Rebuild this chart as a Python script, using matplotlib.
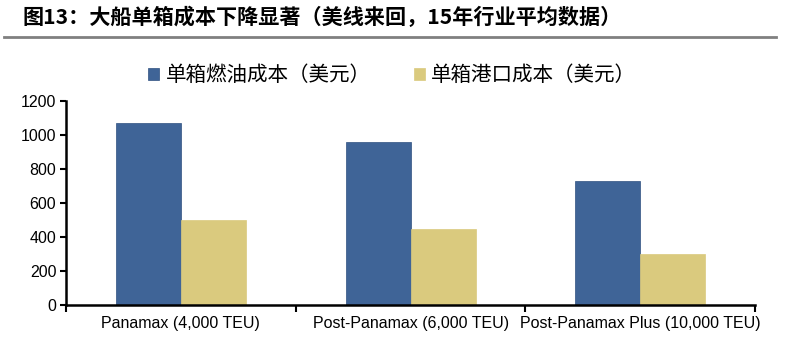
import matplotlib
matplotlib.use("Agg")
import matplotlib.pyplot as plt
import numpy as np

plt.rcParams['font.family'] = ['Liberation Sans', 'Noto Sans CJK SC', 'DejaVu Sans']

categories = ["Panamax (4,000 TEU)", "Post-Panamax (6,000 TEU)", "Post-Panamax Plus (10,000 TEU)"]
fuel_cost = [1070, 960, 730]
port_cost = [500, 450, 300]
series_names = ["单箱燃油成本（美元）", "单箱港口成本（美元）"]
yticks = [0, 200, 400, 600, 800, 1000, 1200]
title = "图13：大船单箱成本下降显著（美线来回，15年行业平均数据）"

blue = "#3F6497"
yellow = "#DACA7E"

fig = plt.figure(figsize=(8, 3.61), dpi=100)
ax = fig.add_axes([0.0825, 0.155, 0.8615, 0.565])

x = np.arange(len(categories))
w = 0.283
ax.bar(x - w/2, fuel_cost, width=w, color=blue, edgecolor="#2F5080", linewidth=0.5, label=series_names[0])
ax.bar(x + w/2, port_cost, width=w, color=yellow, edgecolor=yellow, linewidth=0.5, label=series_names[1])

ax.set_xlim(-0.5, len(categories) - 0.5)
ax.set_ylim(0, 1200)
ax.set_yticks(yticks)
ax.set_yticklabels([str(v) for v in yticks], fontsize=11.5)
ax.set_xticks(x)
ax.set_xticklabels(categories, fontsize=11.5)
ax.tick_params(axis='x', length=0, pad=8)
ax.set_xticks(np.arange(-0.5, len(categories)), minor=True)
ax.tick_params(axis='x', which='minor', length=5, width=1.5, direction='out')
ax.tick_params(axis='y', length=4, width=1.5, direction='out', pad=3)
for s in ['top', 'right']:
    ax.spines[s].set_visible(False)
for s in ['left', 'bottom']:
    ax.spines[s].set_linewidth(1.8)

# legend
leg = fig.legend(loc='center left', bbox_to_anchor=(0.185, 0.792), ncol=2, frameon=False,
                 prop={'family': ['Noto Sans CJK SC'], 'size': 14.8, 'weight': 'medium'},
                 handlelength=0.55, handleheight=0.55, columnspacing=2.1, handletextpad=0.3,
                 borderpad=0, borderaxespad=0)

# title
fig.text(0.0275, 0.953, title, fontsize=15.2, fontweight='bold', va='center', ha='left',
         family=['Noto Sans CJK SC', 'DejaVu Sans'])
fig.add_artist(plt.Line2D([0.005, 0.97], [0.897, 0.897], color='#808080', linewidth=2))

fig.savefig("out.png", dpi=100)
